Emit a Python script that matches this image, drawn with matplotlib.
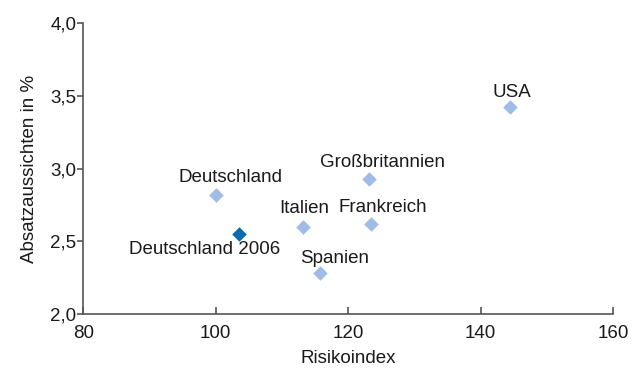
import matplotlib.pyplot as plt

plt.rcParams['font.family'] = ['Liberation Sans', 'DejaVu Sans']

# Risikoindex vs. Absatzaussichten je Land
laender = ["Deutschland", "Italien", "Spanien", "Frankreich", "Großbritannien", "USA"]
risiko = [100.0, 113.2, 115.7, 123.4, 123.2, 144.5]
absatz = [2.82, 2.60, 2.28, 2.62, 2.93, 3.42]

# Referenzpunkt Deutschland 2006
ref_label = "Deutschland 2006"
ref_risiko = 103.5
ref_absatz = 2.55

# label offsets in pixels (dx, dy)
offsets = {
    "Deutschland": (15, 17),
    "Italien": (1, 18),
    "Spanien": (15, 15),
    "Frankreich": (12, 16),
    "Großbritannien": (13, 16),
    "USA": (1, 15),
}

fs = 13.5
txt = '#1a1a1a'

fig = plt.figure(figsize=(6.4, 3.72), dpi=100)
ax = fig.add_axes([0.13, 0.156, 0.828, 0.782])

ax.scatter(risiko, absatz, marker='D', s=55, color='#a0bce6', linewidths=0, zorder=3)
ax.scatter([ref_risiko], [ref_absatz], marker='D', s=55, color='#0a6cb0', linewidths=0, zorder=4)

for name, x, y in zip(laender, risiko, absatz):
    dx, dy = offsets[name]
    ax.annotate(name, (x, y), xytext=(dx, dy), textcoords='offset pixels',
                ha='center', va='center', fontsize=fs, color=txt)
ax.annotate(ref_label, (ref_risiko, ref_absatz), xytext=(-34, -16), textcoords='offset pixels',
            ha='center', va='center', fontsize=fs, color=txt)

ax.set_xlim(80, 160)
ax.set_ylim(2.0, 4.0)
ax.set_xticks([80, 100, 120, 140, 160])
ax.set_yticks([2.0, 2.5, 3.0, 3.5, 4.0])
ax.set_yticklabels(["2,0", "2,5", "3,0", "3,5", "4,0"])

for s in ['top', 'right']:
    ax.spines[s].set_visible(False)
for s in ['left', 'bottom']:
    ax.spines[s].set_color('#555555')
    ax.spines[s].set_linewidth(1.2)

ax.tick_params(axis='x', direction='in', length=5, width=1.2, color='#555555',
               labelsize=fs, labelcolor=txt, pad=8)
ax.tick_params(axis='y', direction='out', length=4, width=1.2, color='#555555',
               labelsize=fs, labelcolor=txt, pad=1)

ax.set_xlabel("Risikoindex", fontsize=fs, color=txt, labelpad=6)
ax.set_ylabel("Absatzaussichten in %", fontsize=fs, color=txt, labelpad=9)

fig.savefig("out.png", dpi=100)
